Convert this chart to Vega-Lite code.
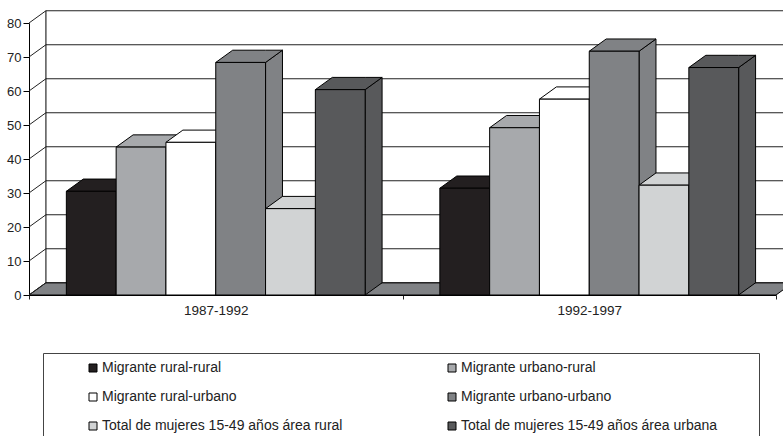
{
"$schema":"https://vega.github.io/schema/vega-lite/v6.json",
"width":747,"height":272,
"autosize":{"type":"none"},
"padding":{"left":29,"top":23,"right":7,"bottom":141},
"background":"white",
"config":{"view":{"stroke":null},"font":"Liberation Sans"},
"datasets":{
"bars":[
{"period":"1987-1992","series":"Migrante rural-rural","value":30.5},
{"period":"1987-1992","series":"Migrante urbano-rural","value":43.5},
{"period":"1987-1992","series":"Migrante rural-urbano","value":44.9},
{"period":"1987-1992","series":"Migrante urbano-urbano","value":68.4},
{"period":"1987-1992","series":"Total de mujeres 15-49 años área rural","value":25.4},
{"period":"1987-1992","series":"Total de mujeres 15-49 años área urbana","value":60.4},
{"period":"1992-1997","series":"Migrante rural-rural","value":31.4},
{"period":"1992-1997","series":"Migrante urbano-rural","value":49.2},
{"period":"1992-1997","series":"Migrante rural-urbano","value":57.6},
{"period":"1992-1997","series":"Migrante urbano-urbano","value":71.7},
{"period":"1992-1997","series":"Total de mujeres 15-49 años área rural","value":32.3},
{"period":"1992-1997","series":"Total de mujeres 15-49 años área urbana","value":66.9}
],
"ticks":[{"tick":0},{"tick":10},{"tick":20},{"tick":30},{"tick":40},{"tick":50},{"tick":60},{"tick":70},{"tick":80}]
},
"layer":[
{
"data":{"name":"bars"},
"mark":{"type":"bar","opacity":0},
"encoding":{
"x":{"field":"period","type":"nominal","scale":{"paddingInner":0,"paddingOuter":0},
"axis":{"title":null,"labelAngle":0,"tickBand":"extent","tickSize":4,"tickColor":"#222","domainColor":"#000","labelFontSize":13.5,"labelColor":"#222","labelPadding":4,"grid":false}},
"y":{"field":"value","type":"quantitative","stack":null,"scale":{"domain":[0,80],"nice":false},
"axis":{"title":null,"values":[0,10,20,30,40,50,60,70,80],"labelOverlap":false,"grid":false,"tickSize":6,"tickColor":"#000","domainColor":"#000","labelFontSize":13,"labelColor":"#222","labelPadding":2}}
}
},
{
"data":{"name":"ticks"},
"transform":[
{"filter":"datum.tick==0"},
{"calculate":"[{x:0,y:0,y2:0},{x:0.34,y:3.6,y2:0},{x:15,y:3.6,y2:0},{x:15.34,y:3.6,y2:3.6}]","as":"verts"},
{"flatten":["verts"],"as":["v"]},
{"calculate":"datum.v.x","as":"vx"},{"calculate":"datum.v.y","as":"vy"},{"calculate":"datum.v.y2","as":"vy2"}
],
"mark":{"type":"area","orient":"vertical","fill":"#808285","stroke":"#000","strokeWidth":1,"clip":false},
"encoding":{
"x":{"field":"vx","type":"quantitative","scale":{"domain":[0,15],"nice":false,"zero":false},"axis":null},
"y":{"field":"vy","type":"quantitative","stack":null,"scale":{"domain":[0,80],"nice":false},
"axis":{"title":null,"values":[0,10,20,30,40,50,60,70,80],"labelOverlap":false,"grid":false,"tickSize":6,"tickColor":"#000","domainColor":"#000","labelFontSize":13,"labelColor":"#222","labelPadding":2}},
"y2":{"field":"vy2"}
}
},
{
"data":{"name":"ticks"},
"transform":[
{"calculate":"[{o:0,x:0,y:datum.tick},{o:1,x:0.34,y:datum.tick+3.6},{o:2,x:15.34,y:datum.tick+3.6}]","as":"verts"},
{"flatten":["verts"],"as":["v"]},
{"calculate":"datum.v.x","as":"vx"},{"calculate":"datum.v.y","as":"vy"},{"calculate":"datum.v.o","as":"vo"}
],
"mark":{"type":"line","stroke":"#222","strokeWidth":1,"clip":false},
"encoding":{
"x":{"field":"vx","type":"quantitative","scale":{"domain":[0,15],"nice":false,"zero":false},"axis":null},
"y":{"field":"vy","type":"quantitative","scale":{"domain":[0,80],"nice":false},
"axis":{"title":null,"values":[0,10,20,30,40,50,60,70,80],"labelOverlap":false,"grid":false,"tickSize":6,"tickColor":"#000","domainColor":"#000","labelFontSize":13,"labelColor":"#222","labelPadding":2}},
"detail":{"field":"tick"},
"order":{"field":"vo"}
}
},
{
"data":{"name":"ticks"},
"transform":[{"calculate":"datum.tick+3.6","as":"backY"}],
"mark":{"type":"line","stroke":"#000","strokeWidth":1,"clip":false},
"encoding":{
"x":{"datum":0.34,"type":"quantitative","scale":{"domain":[0,15],"nice":false,"zero":false},"axis":null},
"y":{"field":"backY","type":"quantitative","scale":{"domain":[0,80],"nice":false},
"axis":{"title":null,"values":[0,10,20,30,40,50,60,70,80],"labelOverlap":false,"grid":false,"tickSize":6,"tickColor":"#000","domainColor":"#000","labelFontSize":13,"labelColor":"#222","labelPadding":2}},
"order":{"field":"tick"}
}
},
{
"data":{"name":"bars"},
"transform":[
{"calculate":"7.5*indexof(['1987-1992','1992-1997'],datum.period)+0.75+indexof(['Migrante rural-rural','Migrante urbano-rural','Migrante rural-urbano','Migrante urbano-urbano','Total de mujeres 15-49 años área rural','Total de mujeres 15-49 años área urbana'],datum.series)","as":"left"},
{"calculate":"[{f:0,x:datum.left+1,y:datum.value,y2:0},{f:0,x:datum.left+1.34,y:datum.value+3.6,y2:3.6},{f:1,x:datum.left,y:datum.value,y2:datum.value},{f:1,x:datum.left+0.34,y:datum.value+3.6,y2:datum.value},{f:1,x:datum.left+1,y:datum.value+3.6,y2:datum.value},{f:1,x:datum.left+1.34,y:datum.value+3.6,y2:datum.value+3.6},{f:2,x:datum.left,y:datum.value,y2:0},{f:2,x:datum.left+1,y:datum.value,y2:0}]","as":"verts"},
{"flatten":["verts"],"as":["v"]},
{"calculate":"datum.v.x","as":"vx"},{"calculate":"datum.v.y","as":"vy"},{"calculate":"datum.v.y2","as":"vy2"},
{"calculate":"datum.left*10+datum.v.f","as":"face"}
],
"mark":{"type":"area","orient":"vertical","stroke":"#000","strokeWidth":1,"opacity":1,"clip":false},
"encoding":{
"x":{"field":"vx","type":"quantitative","scale":{"domain":[0,15],"nice":false,"zero":false},"axis":null},
"y":{"field":"vy","type":"quantitative","stack":null,"scale":{"domain":[0,80],"nice":false},
"axis":{"title":null,"values":[0,10,20,30,40,50,60,70,80],"labelOverlap":false,"grid":false,"tickSize":6,"tickColor":"#000","domainColor":"#000","labelFontSize":13,"labelColor":"#222","labelPadding":2}},
"y2":{"field":"vy2"},
"detail":{"field":"face"},
"color":{"field":"series","type":"nominal",
"scale":{"domain":["Migrante rural-rural","Migrante urbano-rural","Migrante rural-urbano","Migrante urbano-urbano","Total de mujeres 15-49 años área rural","Total de mujeres 15-49 años área urbana"],"range":["#231f20","#a7a9ac","#ffffff","#808285","#d1d3d4","#58595b"]},
"legend":{"title":" ","titleOrient":"right","titlePadding":34,"orient":"none","legendX":14,"legendY":330,"columns":2,"direction":"horizontal","padding":8,"strokeColor":"#444","fillColor":"#fff","symbolType":"square","symbolSize":64,"symbolStrokeColor":"#000","symbolStrokeWidth":1,"symbolOffset":35,"labelFontSize":14,"labelColor":"#222","labelOffset":2,"rowPadding":15,"columnPadding":67,"labelLimit":400}
}
}
}
],
"resolve":{"scale":{"x":"independent"}}
}
